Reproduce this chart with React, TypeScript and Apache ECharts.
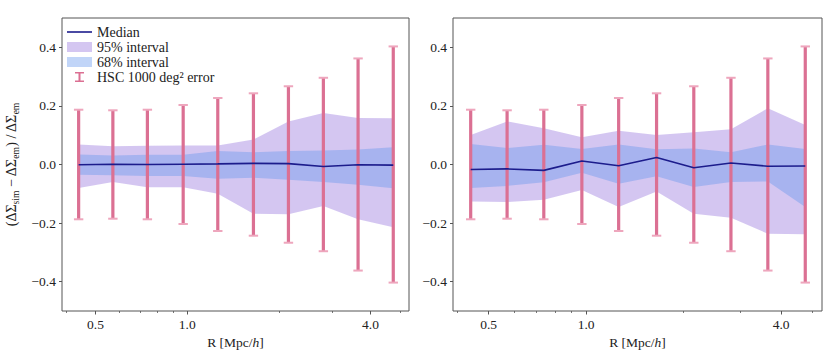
import React, { useEffect, useRef } from 'react';
import * as echarts from 'echarts';

// Projected radii (Mpc/h), shared by both panels
const R = [0.44, 0.57, 0.74, 0.97, 1.26, 1.65, 2.15, 2.8, 3.64, 4.75];
const xRange = [0.388, 5.35];
const xMajorTicks = [0.5, 1.0, 4.0];
const xMinorTicks = [0.4, 0.6, 0.7, 0.8, 0.9, 2, 3, 5];
const yTicks = [-0.4, -0.2, 0, 0.2, 0.4];
const yRange = [-0.5, 0.5];

// HSC 1000 deg^2 error (symmetric around 0)
const hscErr = [0.187, 0.185, 0.187, 0.203, 0.227, 0.243, 0.267, 0.296, 0.362, 0.403];

// Left panel
const leftMedian = [-0.001, 0.001, 0.0, 0.001, 0.002, 0.004, 0.003, -0.007, -0.001, -0.002];
const left95Upper = [0.068, 0.062, 0.064, 0.065, 0.065, 0.085, 0.147, 0.176, 0.159, 0.158];
const left95Lower = [-0.08, -0.06, -0.078, -0.078, -0.1, -0.168, -0.17, -0.142, -0.187, -0.214];
const left68Upper = [0.034, 0.031, 0.033, 0.033, 0.046, 0.042, 0.046, 0.048, 0.051, 0.059];
const left68Lower = [-0.035, -0.037, -0.039, -0.039, -0.049, -0.045, -0.052, -0.06, -0.069, -0.081];

// Right panel
const rightMedian = [-0.017, -0.015, -0.02, 0.012, -0.004, 0.024, -0.011, 0.005, -0.006, -0.005];
const right95Upper = [0.101, 0.147, 0.124, 0.093, 0.115, 0.101, 0.11, 0.12, 0.192, 0.135];
const right95Lower = [-0.126, -0.128, -0.12, -0.087, -0.145, -0.092, -0.168, -0.182, -0.236, -0.238];
const right68Upper = [0.07, 0.056, 0.067, 0.053, 0.068, 0.052, 0.055, 0.042, 0.068, 0.053];
const right68Lower = [-0.08, -0.073, -0.061, -0.028, -0.066, -0.04, -0.077, -0.06, -0.058, -0.145];

const FONT = 'Liberation Serif';
const TEXT = '#222';
const FRAME = '#555';
const C95 = 'rgba(147,112,219,0.4)';
const C68 = 'rgba(100,149,237,0.4)';
const CMED = '#1c1c8c';
const CERR = '#db7093';
const CCAP = '#eea6bd';

const NAME_MED = 'Median';
const NAME_95 = '95% interval';
const NAME_68 = '68% interval';
const NAME_ERR = 'HSC 1000 deg\u00B2 error';

const lg = (v: number) => Math.log10(v);
const fmtMinus = (v: number) => (v < 0 ? '\u2212' + Math.abs(v).toFixed(1) : v.toFixed(1));

function bandSeries(name: string, grid: number, lower: number[], upper: number[], color: string) {
  return {
    type: 'custom',
    name,
    xAxisIndex: grid * 2,
    yAxisIndex: grid,
    silent: true,
    itemStyle: { color },
    data: R.map((r, i) => [lg(r), lower[i], upper[i]]),
    encode: { x: 0, y: [1, 2] },
    renderItem: (params: any, api: any) => {
      if (params.dataIndexInside !== 0) return { type: 'group', children: [] };
      const n = params.dataInsideLength;
      const top: number[][] = [];
      const bot: number[][] = [];
      for (let i = 0; i < n; i++) {
        top.push(api.coord([api.value(0, i), api.value(2, i)]));
        bot.push(api.coord([api.value(0, i), api.value(1, i)]));
      }
      return {
        type: 'polygon',
        shape: { points: top.concat(bot.reverse()) },
        style: { fill: color },
      };
    },
  };
}

function errSeries(grid: number) {
  return {
    type: 'custom',
    name: NAME_ERR,
    xAxisIndex: grid * 2,
    yAxisIndex: grid,
    silent: true,
    itemStyle: { color: CERR },
    data: R.map((r, i) => [lg(r), hscErr[i]]),
    encode: { x: 0, y: 1 },
    renderItem: (params: any, api: any) => {
      const x = api.value(0);
      const e = api.value(1);
      const t = api.coord([x, e]);
      const b = api.coord([x, -e]);
      const h = 4.7;
      return {
        type: 'group',
        children: [
          { type: 'line', shape: { x1: t[0], y1: t[1], x2: b[0], y2: b[1] }, style: { stroke: CERR, lineWidth: 3.2 } },
          { type: 'line', shape: { x1: t[0] - h, y1: t[1], x2: t[0] + h, y2: t[1] }, style: { stroke: CCAP, lineWidth: 2 } },
          { type: 'line', shape: { x1: b[0] - h, y1: b[1], x2: b[0] + h, y2: b[1] }, style: { stroke: CCAP, lineWidth: 2 } },
        ],
      };
    },
  };
}

function medianSeries(grid: number, med: number[]) {
  return {
    type: 'line',
    name: NAME_MED,
    xAxisIndex: grid * 2,
    yAxisIndex: grid,
    symbol: 'none',
    silent: true,
    z: 5,
    color: CMED,
    lineStyle: { color: CMED, width: 1.6 },
    data: R.map((r, i) => [lg(r), med[i]]),
  };
}

function xAxes(grid: number) {
  const base = {
    type: 'value',
    gridIndex: grid,
    position: 'bottom',
    min: lg(xRange[0]),
    max: lg(xRange[1]),
    splitLine: { show: false },
    axisLine: { show: false, onZero: false },
  };
  return [
    {
      ...base,
      name: 'R [Mpc/{i|h}]',
      nameLocation: 'middle',
      nameGap: 24,
      nameTextStyle: {
        fontFamily: FONT,
        fontSize: 13.5,
        color: TEXT,
        rich: { i: { fontFamily: FONT, fontSize: 13.5, fontStyle: 'italic', color: TEXT } },
      },
      axisTick: { show: true, customValues: xMajorTicks.map(lg), length: 3.5, lineStyle: { color: FRAME, width: 1 } },
      axisLabel: {
        show: true,
        customValues: xMajorTicks.map(lg),
        formatter: (v: number) => Math.pow(10, v).toFixed(1),
        fontFamily: FONT,
        fontSize: 13.5,
        color: TEXT,
        margin: 6,
      },
    },
    {
      ...base,
      axisTick: { show: true, customValues: xMinorTicks.map(lg), length: 2, lineStyle: { color: FRAME, width: 0.8 } },
      axisLabel: { show: false },
    },
  ];
}

function yAxis(grid: number, withName: boolean) {
  const ax: any = {
    type: 'value',
    gridIndex: grid,
    position: 'left',
    min: yRange[0],
    max: yRange[1],
    splitLine: { show: false },
    axisLine: { show: false, onZero: false },
    axisTick: { show: true, customValues: yTicks, length: 3, lineStyle: { color: FRAME, width: 1 } },
    axisLabel: {
      customValues: yTicks,
      formatter: fmtMinus,
      fontFamily: FONT,
      fontSize: 13.5,
      color: TEXT,
      margin: 6,
    },
  };
  if (withName) {
    ax.name = '(\u0394\u03A3{s|sim} \u2212 \u0394\u03A3{s|em}) / \u0394\u03A3{s|em}';
    ax.nameLocation = 'middle';
    ax.nameGap = 41;
    ax.nameRotate = 90;
    ax.nameTextStyle = {
      fontFamily: FONT,
      fontSize: 14,
      color: TEXT,
      lineHeight: 20,
      rich: {
        s: { fontFamily: FONT, fontSize: 9.5, color: TEXT, verticalAlign: 'bottom', lineHeight: 20 },
      },
    };
  }
  return ax;
}

export default function App() {
  const ref = useRef<HTMLDivElement>(null);
  useEffect(() => {
    if (!ref.current) return;
    const chart = echarts.init(ref.current, null, { renderer: 'svg' });
    const option: any = {
      animation: false,
      backgroundColor: '#fff',
      grid: [
        { left: 60, top: 18, width: 349, height: 293, show: true, borderColor: FRAME, borderWidth: 1, backgroundColor: 'transparent' },
        { left: 453, top: 18, width: 369, height: 293, show: true, borderColor: FRAME, borderWidth: 1, backgroundColor: 'transparent' },
      ],
      xAxis: [...xAxes(0), ...xAxes(1)],
      yAxis: [yAxis(0, true), yAxis(1, false)],
      legend: {
        orient: 'vertical',
        left: 67,
        top: 25,
        padding: 0,
        itemWidth: 25,
        itemHeight: 10,
        itemGap: 1,
        symbolKeepAspect: false,
        selectedMode: false,
        textStyle: { fontFamily: FONT, fontSize: 14, color: TEXT },
        data: [
          { name: NAME_MED, icon: 'path://M0,0M25,10M0,4.2L25,4.2L25,5.8L0,5.8Z', itemStyle: { color: CMED } },
          { name: NAME_95, icon: 'rect', itemStyle: { color: C95 } },
          { name: NAME_68, icon: 'rect', itemStyle: { color: C68 } },
          {
            name: NAME_ERR,
            icon: 'path://M0,0M25,10M8,0L17,0L17,1.4L13.5,1.4L13.5,8.6L17,8.6L17,10L8,10L8,8.6L11.5,8.6L11.5,1.4L8,1.4Z',
            itemStyle: { color: CERR },
          },
        ],
      },
      series: [
        bandSeries(NAME_95, 0, left95Lower, left95Upper, C95),
        bandSeries(NAME_68, 0, left68Lower, left68Upper, C68),
        errSeries(0),
        medianSeries(0, leftMedian),
        bandSeries(NAME_95, 1, right95Lower, right95Upper, C95),
        bandSeries(NAME_68, 1, right68Lower, right68Upper, C68),
        errSeries(1),
        medianSeries(1, rightMedian),
      ],
    };
    chart.setOption(option);
    return () => chart.dispose();
  }, []);
  return <div ref={ref} style={{ position: 'fixed', left: 0, top: 0, width: 830, height: 364 }} />;
}
